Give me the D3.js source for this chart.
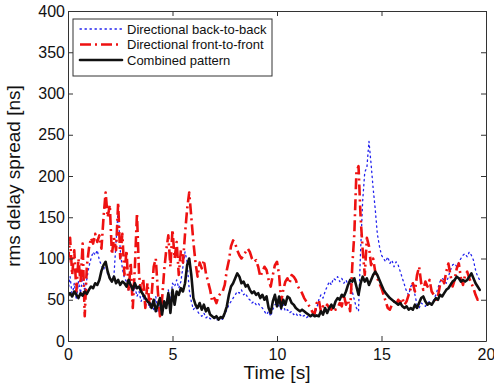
<!DOCTYPE html>
<html>
<head>
<meta charset="utf-8">
<script src="https://cdn.jsdelivr.net/npm/d3@7"></script>
<style>
  html, body { margin: 0; padding: 0; background: #fff; }
  svg { display: block; }
  text { font-family: "Liberation Sans", Arial, Helvetica, sans-serif; }
</style>
</head>
<body>
<svg id="chart" width="494" height="383"></svg>
<script>
// Sampling grid: one value every 0.1 s from 0 to 19.7 s
const timeStart = 0;
const timeStep = 0.1;

// RMS delay spread [ns], directional antennas back-to-back
const backToBack = [
  60, 78, 55, 70, 50, 72, 58, 80, 60, 75,
  90, 100, 108, 104, 110, 98, 92, 86, 94, 80,
  76, 72, 80, 120, 160, 110, 88, 76, 72, 62,
  70, 58, 66, 54, 60, 48, 56, 42, 50, 40,
  46, 38, 54, 36, 48, 32, 50, 40, 62, 48,
  70, 66, 74, 64, 72, 90, 108, 96, 62, 48,
  38, 42, 36, 32, 30, 34, 28, 30, 27, 26,
  28, 25, 27, 28, 26, 32, 38, 44, 48, 52,
  56, 60, 58, 62, 56, 58, 52, 50, 46, 48,
  44, 46, 42, 40, 36, 32, 36, 30, 38, 44,
  46, 42, 38, 44, 36, 38, 34, 36, 32, 34,
  30, 32, 29, 31, 28, 30, 29, 31, 30, 40,
  50, 56, 52, 60, 66, 72, 68, 76, 74, 78,
  72, 76, 70, 74, 68, 72, 60, 50, 40, 36,
  110, 170, 205, 210, 242, 215, 185, 160, 130, 115,
  104, 100, 96, 102, 94, 98, 90, 96, 92, 84,
  76, 68, 60, 56, 66, 70, 56, 44, 40, 46,
  44, 42, 46, 48, 44, 50, 56, 64, 72, 76,
  74, 70, 78, 86, 92, 94, 90, 96, 100, 104,
  106, 102, 108, 104, 98, 86, 78, 74
];

// RMS delay spread [ns], directional antennas front-to-front
const frontToFront = [
  95, 125, 80, 110, 60, 100, 70, 118, 30, 90,
  112, 125, 118, 130, 120, 128, 112, 150, 180, 150,
  165, 105, 125, 110, 168, 100, 130, 80, 110, 60,
  95, 40, 90, 155, 80, 60, 75, 40, 70, 45,
  55, 90, 100, 60, 30, 50, 85, 110, 128, 90,
  135, 100, 120, 80, 110, 95, 130, 160, 180, 150,
  120, 95, 78, 95, 88, 98, 82, 72, 62, 48,
  52, 46, 54, 58, 60, 68, 86, 98, 115, 122,
  118, 110, 104, 100, 104, 108, 112, 108, 100, 96,
  98, 90, 78, 84, 90, 86, 74, 66, 80, 92,
  96, 80, 48, 62, 72, 76, 70, 80, 78, 74,
  66, 62, 58, 52, 48, 44, 40, 35, 33, 46,
  50, 36, 42, 40, 44, 40, 38, 42, 38, 40,
  46, 42, 56, 44, 50, 36, 90, 130, 205, 212,
  150, 110, 80, 125, 115, 92, 100, 84, 76, 70,
  64, 56, 48, 40, 38, 44, 48, 44, 50, 46,
  52, 44, 48, 56, 64, 70, 60, 80, 90, 70,
  62, 72, 66, 74, 60, 56, 50, 54, 68, 76,
  70, 84, 94, 80, 66, 74, 88, 94, 76, 68,
  80, 84, 76, 70, 64, 56, 50, 52
];

// RMS delay spread [ns], combined antenna pattern
const combined = [
  55, 58, 54, 60, 56, 52, 58, 55, 60, 57,
  62, 66, 64, 70, 68, 74, 85, 92, 96, 84,
  76, 72, 78, 70, 74, 68, 72, 70, 66, 74,
  68, 62, 70, 64, 66, 60, 56, 52, 48, 46,
  40, 50, 36, 44, 52, 32, 48, 40, 58, 34,
  62, 44, 60, 56, 64, 60, 70, 92, 100, 80,
  52, 44, 40, 46, 38, 44, 36, 40, 32, 30,
  28, 30, 26, 29, 28, 34, 42, 56, 66, 70,
  76, 82, 78, 70, 72, 66, 68, 62, 58, 60,
  56, 58, 52, 56, 50, 54, 40, 34, 48, 56,
  42, 54, 40, 50, 44, 54, 52, 46, 44, 40,
  38, 36, 38, 36, 34, 32, 30, 32, 30, 31,
  30, 36, 32, 40, 34, 40, 44, 40, 48, 52,
  50, 56, 54, 60, 68, 74, 72, 76, 66, 56,
  70, 78, 72, 76, 68, 74, 80, 84, 80, 74,
  68, 62, 58, 55, 52, 50, 48, 46, 44, 46,
  42, 40, 42, 38, 40, 38, 44, 40, 46, 52,
  54, 48, 44, 46, 44, 48, 52, 50, 56, 54,
  58, 62, 64, 68, 72, 74, 78, 76, 72, 74,
  72, 74, 78, 82, 76, 70, 66, 62
];

const xTicks = [0, 5, 10, 15, 20];
const yTicks = [0, 50, 100, 150, 200, 250, 300, 350, 400];

const seriesNames = ["Directional back-to-back", "Directional front-to-front", "Combined pattern"];

const margin = { left: 68, top: 11, right: 8, bottom: 42 };
const W = 494, H = 383;
const pw = W - margin.left - margin.right;
const ph = H - margin.top - margin.bottom;

const svg = d3.select("#chart");
const g = svg.append("g").attr("transform", `translate(${margin.left},${margin.top})`);

const x = d3.scaleLinear().domain([0, 20]).range([0, pw]);
const y = d3.scaleLinear().domain([0, 400]).range([ph, 0]);

const toPoints = vals => vals.map((v, i) => ({ t: timeStart + i * timeStep, v }));

const line = d3.line().x(d => x(d.t)).y(d => y(d.v));

const styles = [
  { data: backToBack, stroke: "#2222ee", width: 1.3, dash: "1.4,3.6", cap: "round" },
  { data: frontToFront, stroke: "#ee1111", width: 2.6, dash: "11,4,2,4", cap: "butt" },
  { data: combined, stroke: "#111111", width: 2.6, dash: null, cap: "round" }
];

g.append("clipPath").attr("id", "plotclip")
  .append("rect").attr("width", pw).attr("height", ph);

const plot = g.append("g").attr("clip-path", "url(#plotclip)");
styles.forEach(s => {
  plot.append("path")
    .datum(toPoints(s.data))
    .attr("fill", "none")
    .attr("stroke", s.stroke)
    .attr("stroke-width", s.width)
    .attr("stroke-dasharray", s.dash)
    .attr("stroke-linecap", s.cap)
    .attr("stroke-linejoin", "round")
    .attr("d", line);
});

// Axes: ticks point inward on all four sides
const axisColor = "#333";
const tickLen = 5;

const axBottom = g.append("g").attr("transform", `translate(0,${ph})`)
  .call(d3.axisBottom(x).tickValues(xTicks).tickSizeInner(-tickLen).tickSizeOuter(0).tickPadding(10));
const axTop = g.append("g")
  .call(d3.axisTop(x).tickValues(xTicks).tickSizeInner(-tickLen).tickSizeOuter(0).tickFormat(""));
const axLeft = g.append("g")
  .call(d3.axisLeft(y).tickValues(yTicks).tickSizeInner(-tickLen).tickSizeOuter(0).tickPadding(3));
const axRight = g.append("g").attr("transform", `translate(${pw},0)`)
  .call(d3.axisRight(y).tickValues(yTicks).tickSizeInner(-tickLen).tickSizeOuter(0).tickFormat(""));

[axBottom, axTop, axLeft, axRight].forEach(a => {
  a.select(".domain").attr("stroke", axisColor).attr("stroke-width", 1);
  a.selectAll(".tick line").attr("stroke", axisColor).attr("stroke-width", 1);
  a.selectAll(".tick text").attr("fill", "#111").style("font-size", "16px")
    .style("font-family", "'Liberation Sans', Arial, sans-serif");
});
axBottom.selectAll(".tick text").attr("dy", "0.55em");

// Axis titles
g.append("text")
  .attr("x", pw / 2).attr("y", ph + 38)
  .attr("text-anchor", "middle")
  .style("font-size", "19px").attr("fill", "#111")
  .text("Time [s]");

g.append("text")
  .attr("transform", `translate(${-48},${ph / 2}) rotate(-90)`)
  .attr("text-anchor", "middle")
  .style("font-size", "19px").attr("fill", "#111")
  .text("rms delay spread [ns]");

// Legend
const lg = g.append("g").attr("transform", "translate(5,8)");
lg.append("rect")
  .attr("width", 199).attr("height", 57)
  .attr("fill", "#fff").attr("stroke", axisColor).attr("stroke-width", 1);
seriesNames.forEach((name, i) => {
  const s = styles[i];
  const cy = 10 + i * 15.5;
  lg.append("line")
    .attr("x1", 7).attr("x2", 49).attr("y1", cy).attr("y2", cy)
    .attr("stroke", s.stroke).attr("stroke-width", s.width)
    .attr("stroke-dasharray", s.dash).attr("stroke-linecap", s.cap);
  lg.append("text")
    .attr("x", 54).attr("y", cy).attr("dy", "0.35em")
    .style("font-size", "13px").attr("fill", "#111")
    .text(name);
});
</script>
</body>
</html>
